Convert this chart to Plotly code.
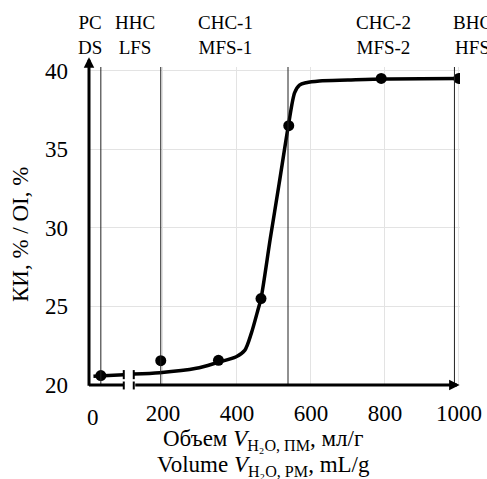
import plotly.graph_objects as go

# ---- data ----
region_labels = ["PC<br>DS", "HHC<br>LFS", "CHC-1<br>MFS-1", "CHC-2<br>MFS-2", "BHC<br>HFS"]
region_label_x = [4, 123, 369, 795, 979]
boundary_x = [32, 194, 538, 988]

points_x = [32, 194, 350, 465, 540, 790, 1000]
points_y = [20.6, 21.55, 21.57, 25.5, 36.5, 39.5, 39.5]

curve_left_x = [12, 94]
curve_left_y = [20.55, 20.65]
curve_x = [121, 191, 290, 346, 398, 421, 439, 457, 465, 490, 514, 539, 556, 569, 587, 623, 700, 800, 1000]
curve_y = [20.70, 20.78, 21.06, 21.42, 21.8, 22.2, 23.3, 24.8, 25.5, 29.3, 32.8, 36.5, 38.6, 39.08, 39.23, 39.34, 39.4, 39.47, 39.5]

x_ticks = [200, 400, 600, 800, 1000]
y_ticks = [20, 25, 30, 35, 40]
break_x = [94, 121]

x_title_lines = ["Объем <i>V</i><sub>H₂O, ПМ</sub>, мл/г", "Volume <i>V</i><sub>H₂O, PM</sub>, mL/g"]
y_title = "КИ, % / OI, %"

FONT = "Liberation Serif"

fig = go.Figure()

# region boundaries
for bx in boundary_x:
    fig.add_shape(type="line", xref="x", yref="paper", x0=bx, x1=bx, y0=0, y1=1,
                  line=dict(color="#222222", width=1))

fig.add_trace(go.Scatter(x=curve_left_x, y=curve_left_y, mode="lines",
                         line=dict(color="black", width=3.5), hoverinfo="skip"))
fig.add_trace(go.Scatter(x=curve_x, y=curve_y, mode="lines",
                         line=dict(color="black", width=3.5, shape="spline", smoothing=0.8),
                         hoverinfo="skip"))
fig.add_trace(go.Scatter(x=points_x, y=points_y, mode="markers",
                         marker=dict(color="black", size=11), hoverinfo="skip"))

# break caps on curve and on axis
for bx in break_x:
    fig.add_shape(type="line", xref="x", yref="y", x0=bx, x1=bx, y0=20.37, y1=20.95,
                  line=dict(color="black", width=2))
    fig.add_shape(type="line", xref="x", yref="paper", x0=bx, x1=bx, y0=-0.014, y1=0.011,
                  line=dict(color="black", width=2))

# x axis: first segment
fig.add_shape(type="line", xref="x", yref="paper", x0=0, x1=break_x[0], y0=0, y1=0,
              line=dict(color="black", width=3))

annotations = []
# x axis arrow (second segment)
annotations.append(dict(x=1002, y=0, xref="x", yref="paper", axref="x", ax=break_x[1],
                        ayref="pixel", ay=0, text="", showarrow=True, arrowhead=2,
                        arrowsize=0.7, arrowwidth=3, arrowcolor="black", standoff=0,
                        startstandoff=0))
# y axis arrow
annotations.append(dict(x=0, y=1.031, xref="x", yref="paper", ax=0, ay=330,
                        text="", showarrow=True, arrowhead=2,
                        arrowsize=0.7, arrowwidth=3, arrowcolor="black", standoff=0,
                        startstandoff=0))

for lab, lx in zip(region_labels, region_label_x):
    anchor = "left" if lab.startswith("BHC") else "center"
    annotations.append(dict(x=lx, y=1.1, xref="x", yref="paper", text=lab,
                            showarrow=False, xanchor=anchor, yanchor="middle",
                            font=dict(family=FONT, size=19, color="black")))

annotations.append(dict(x=0, y=0, xref="x", yref="paper", text="0", showarrow=False,
                        xanchor="center", yanchor="top", xshift=4, yshift=-18,
                        font=dict(family=FONT, size=23, color="black")))

for line, ly in zip(x_title_lines, [-0.173, -0.255]):
    annotations.append(dict(x=0.47, y=ly, xref="paper", yref="paper", text=line,
                            showarrow=False, xanchor="center", yanchor="middle",
                            font=dict(family=FONT, size=23, color="black")))

annotations.append(dict(x=-0.183, y=0.472, xref="paper", yref="paper",
                        text=y_title, textangle=-90, showarrow=False,
                        xanchor="center", yanchor="middle",
                        font=dict(family=FONT, size=23, color="black")))

fig.update_layout(
    width=487, height=479,
    margin=dict(l=89, r=27, t=67, b=94, autoexpand=False),
    plot_bgcolor="white", paper_bgcolor="white",
    showlegend=False,
    annotations=annotations,
    font=dict(family=FONT, size=23, color="black"),
    xaxis=dict(range=[0, 1003], tickvals=x_ticks, showgrid=True, gridcolor="#e3e3e3",
               gridwidth=1.2, zeroline=False, showline=False, ticks="", automargin=False,
               ticklabelstandoff=12, tickfont=dict(family=FONT, size=23)),
    yaxis=dict(range=[20, 40.23], tickvals=y_ticks, showgrid=True, gridcolor="#e3e3e3",
               gridwidth=1.2, zeroline=False, showline=False, ticks="", automargin=False,
               ticklabelstandoff=20, tickfont=dict(family=FONT, size=23)),
)

fig.write_html("out.html", config={"displayModeBar": False},
               post_script="document.body.style.margin='0';document.body.style.padding='0';")
